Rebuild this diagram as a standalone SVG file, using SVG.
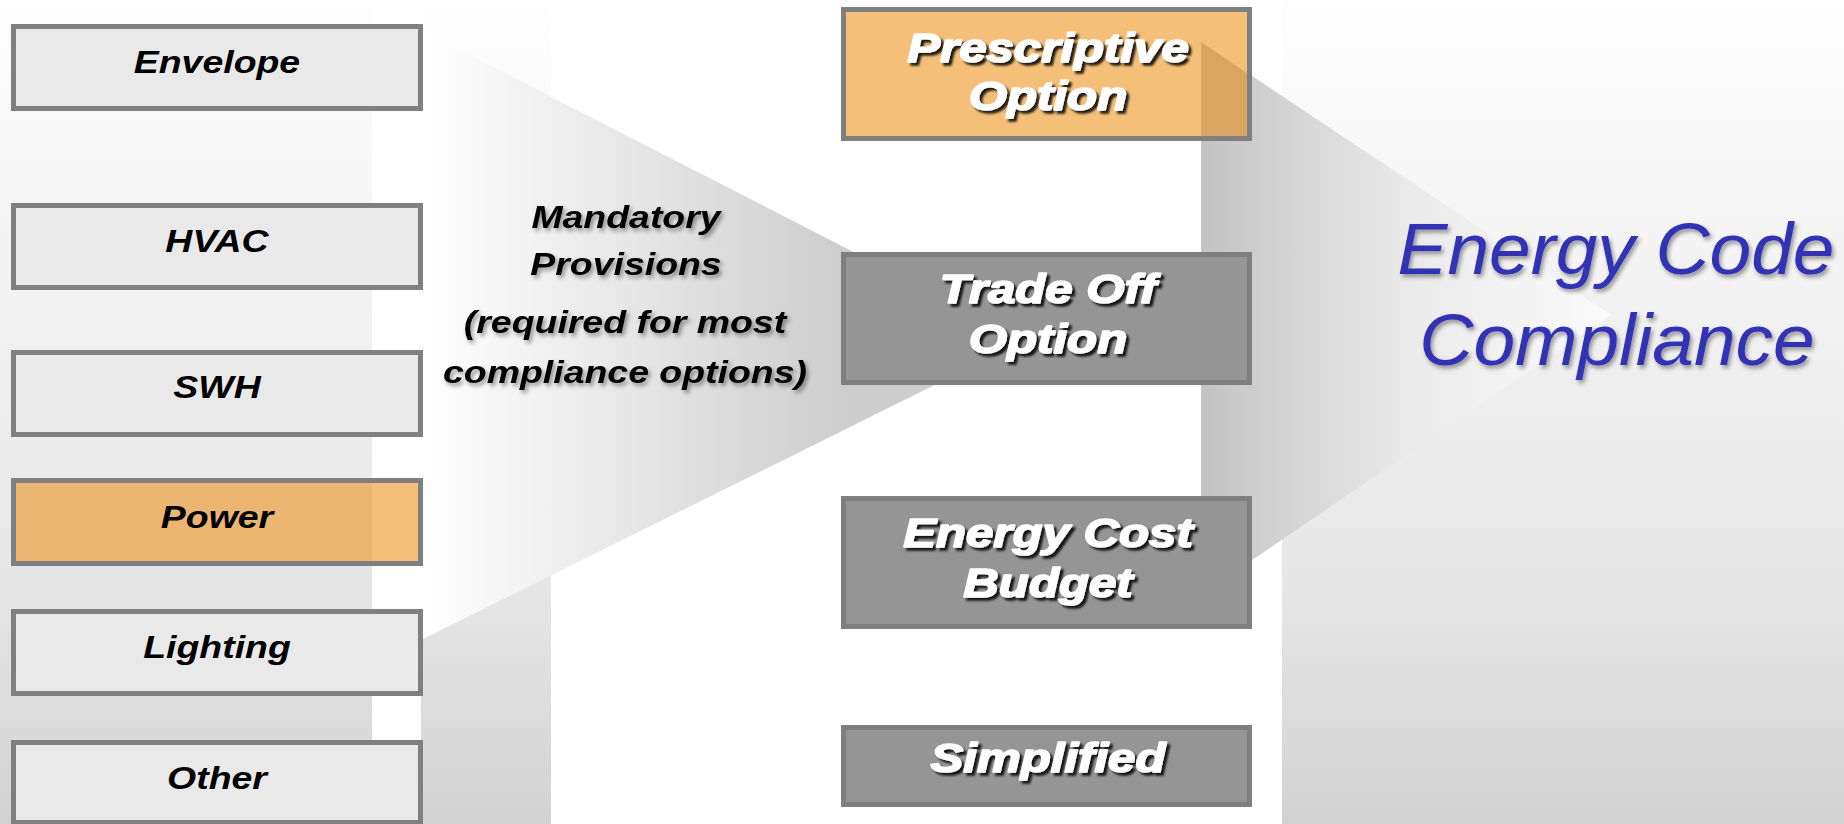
<svg xmlns="http://www.w3.org/2000/svg" width="1844" height="824" viewBox="0 0 1844 824">
<defs>
<linearGradient id="gPanel" gradientUnits="userSpaceOnUse" x1="0" y1="0" x2="0" y2="824">
<stop offset="0" stop-color="#fefefe"/><stop offset="0.72" stop-color="#e6e6e6"/><stop offset="1" stop-color="#d2d2d2"/>
</linearGradient>
<linearGradient id="gLeftFunnel" gradientUnits="userSpaceOnUse" x1="421" y1="0" x2="850" y2="0">
<stop offset="0" stop-color="#ffffff"/><stop offset="1" stop-color="#cdcdcd"/>
</linearGradient>
<linearGradient id="gRightFunnel" gradientUnits="userSpaceOnUse" x1="1201" y1="0" x2="1611" y2="0">
<stop offset="0" stop-color="#c3c3c3"/><stop offset="0.5" stop-color="#eaeaea"/><stop offset="1" stop-color="#fbfbfb"/>
</linearGradient>
<filter id="shHard" x="-10%" y="-30%" width="130%" height="170%"><feDropShadow dx="2.5" dy="3" stdDeviation="1" flood-color="#000" flood-opacity="0.85"/></filter>
<filter id="shSoft" x="-10%" y="-30%" width="130%" height="170%"><feDropShadow dx="2" dy="3" stdDeviation="2" flood-color="#000" flood-opacity="0.4"/></filter>
</defs>
<style>
.lbox{fill:#e9e9e9;stroke:#808080;stroke-width:5}
.obox{fill:#959595;stroke:#7f7f7f;stroke-width:5}
.pbox{fill:#f3bf79;stroke:#7f7f7f;stroke-width:5}
.lt{font-family:"Liberation Sans",Arial,sans-serif;font-weight:bold;font-style:italic;font-size:32px;fill:#000;text-anchor:middle}
.mt{font-family:"Liberation Sans",Arial,sans-serif;font-weight:bold;font-style:italic;font-size:32px;fill:#000;text-anchor:middle;filter:url(#shSoft)}
.ot{font-family:"Liberation Sans",Arial,sans-serif;font-weight:bold;font-style:italic;font-size:41px;fill:#fff;stroke:#fff;stroke-width:1.6;stroke-linejoin:round;text-anchor:middle;filter:url(#shHard)}
.ec{font-family:"Liberation Sans",Arial,sans-serif;font-style:italic;font-size:72px;fill:#3030b4;text-anchor:middle;filter:url(#shSoft)}
</style>
<rect x="0" y="0" width="1844" height="824" fill="#ffffff"/>
<g id="background">
<rect x="0" y="0" width="372" height="824" fill="url(#gPanel)"/>
<rect x="421" y="0" width="130" height="824" fill="url(#gPanel)"/>
<rect x="1282" y="0" width="562" height="824" fill="url(#gPanel)"/>
</g>
<g id="connectors">
<polygon points="421,30 1025,340 421,640" fill="url(#gLeftFunnel)"/>
<polygon points="1201,42 1611,315 1201,595" fill="url(#gRightFunnel)"/>
</g>
<g id="envelope">
<rect class="lbox" x="13.5" y="26.5" width="407" height="82"/>
<text class="lt" transform="translate(217 73) scale(1.17 1)">Envelope</text>
</g>
<g id="hvac">
<rect class="lbox" x="13.5" y="205.5" width="407" height="82"/>
<text class="lt" transform="translate(217 252) scale(1.17 1)">HVAC</text>
</g>
<g id="swh">
<rect class="lbox" x="13.5" y="352.5" width="407" height="82"/>
<text class="lt" transform="translate(217 398) scale(1.17 1)">SWH</text>
</g>
<g id="power">
<rect class="pbox" x="13.5" y="480.5" width="407" height="83" fill="#f4c07a"/>
<rect x="16" y="483" width="356" height="78" fill="#eab672"/>
<text class="lt" transform="translate(217 528) scale(1.17 1)">Power</text>
</g>
<g id="lighting">
<rect class="lbox" x="13.5" y="611.5" width="407" height="82"/>
<text class="lt" transform="translate(217 658) scale(1.17 1)">Lighting</text>
</g>
<g id="other">
<rect class="lbox" x="13.5" y="742.5" width="407" height="80"/>
<text class="lt" transform="translate(217 789) scale(1.17 1)">Other</text>
</g>
<g id="mandatory-provisions">
<text class="mt" transform="translate(626 228) scale(1.17 1)">Mandatory</text>
<text class="mt" transform="translate(626 275) scale(1.17 1)">Provisions</text>
<text class="mt" transform="translate(625 333) scale(1.17 1)">(required for most</text>
<text class="mt" transform="translate(625 383) scale(1.17 1)">compliance options)</text>
</g>
<g id="prescriptive-option">
<rect class="pbox" x="843.5" y="9.5" width="406" height="129"/>
<polygon points="1201,42 1247,73 1247,136 1201,136" fill="#d9a560"/>
<text class="ot" transform="translate(1048 62) scale(1.2 1)">Prescriptive</text>
<text class="ot" transform="translate(1048 110) scale(1.2 1)">Option</text>
</g>
<g id="trade-off-option">
<rect class="obox" x="843.5" y="254.5" width="406" height="128"/>
<text class="ot" transform="translate(1048 303) scale(1.2 1)">Trade Off</text>
<text class="ot" transform="translate(1048 353) scale(1.2 1)">Option</text>
</g>
<g id="energy-cost-budget">
<rect class="obox" x="843.5" y="498.5" width="406" height="128"/>
<text class="ot" transform="translate(1048 547) scale(1.2 1)">Energy Cost</text>
<text class="ot" transform="translate(1048 597) scale(1.2 1)">Budget</text>
</g>
<g id="simplified">
<rect class="obox" x="843.5" y="727.5" width="406" height="77"/>
<text class="ot" transform="translate(1048 772) scale(1.2 1)">Simplified</text>
</g>
<g id="energy-code-compliance">
<text class="ec" transform="translate(1616 274) scale(1.04 1)">Energy Code</text>
<text class="ec" transform="translate(1617 365) scale(1.04 1)">Compliance</text>
</g>
</svg>
